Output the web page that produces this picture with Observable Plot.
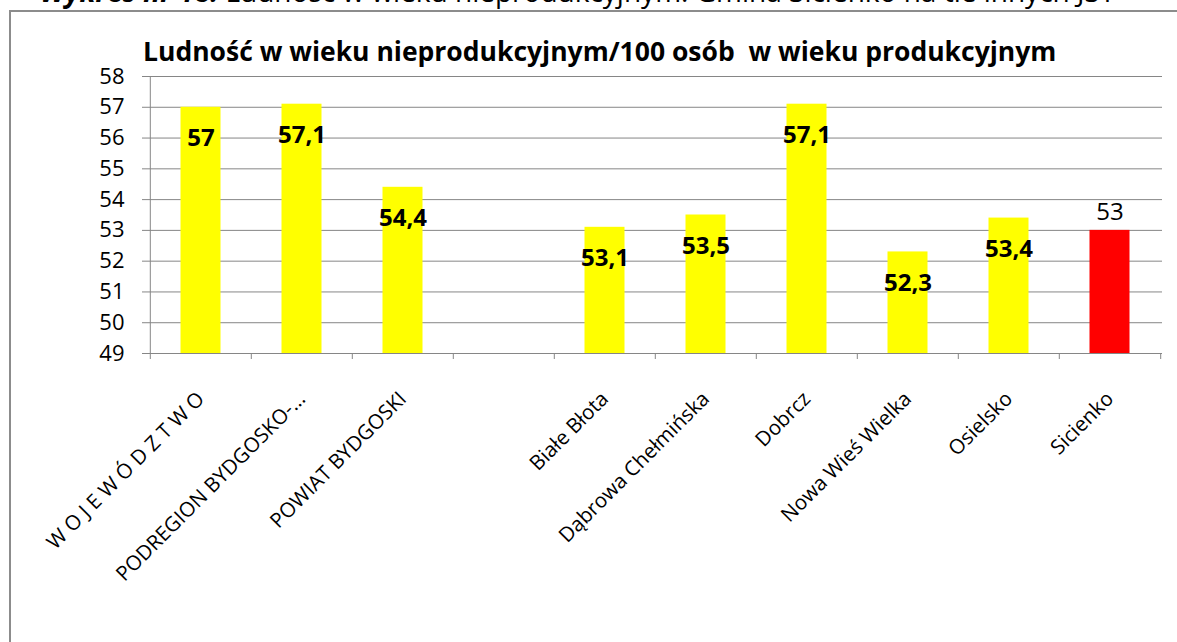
<!DOCTYPE html>
<html><head><meta charset="utf-8">
<script src="https://cdn.jsdelivr.net/npm/d3@7"></script>
<script src="https://cdn.jsdelivr.net/npm/@observablehq/plot@0.6"></script>
<style>
body{margin:0;background:#fff;width:1177px;height:642px;overflow:hidden;position:relative;font-family:"Open Sans",sans-serif;color:#000}
#top{position:absolute;left:40px;top:-23px;font-size:28px;white-space:nowrap;line-height:28px}
#frame{position:absolute;left:9px;top:10px;width:1300px;height:800px;border-left:2px solid #8c8c8c;border-top:2px solid #8c8c8c}
#title{position:absolute;left:143px;top:34px;font-size:26.5px;font-weight:700;white-space:nowrap;line-height:34px}
#chart{position:absolute;left:0;top:40px}
</style></head><body>
<div id="top"><b><i>Wykres nr 18.</i></b> Ludność w wieku nieprodukcyjnym. Gmina Sicienko na tle innych JST</div>
<div id="frame"></div>
<div id="title">Ludność w wieku nieprodukcyjnym/100 osób&nbsp; w wieku produkcyjnym</div>
<div id="chart"></div>
<script>
const categories = ["W O J E W Ó D Z T W O", "PODREGION BYDGOSKO-...", "POWIAT BYDGOSKI", "", "Białe Błota", "Dąbrowa Chełmińska", "Dobrcz", "Nowa Wieś Wielka", "Osielsko", "Sicienko"];
const values = [57, 57.1, 54.4, null, 53.1, 53.5, 57.1, 52.3, 53.4, 53];
const highlighted = "Sicienko";
const yTicks = [49, 50, 51, 52, 53, 54, 55, 56, 57, 58];

const data = categories.map((name, i) => ({name, value: values[i]}));
const bars = data.filter(d => d.value != null);
const fmt = v => String(v).replace(".", ",");

const W = 1177, H = 602, ML = 148, MR = 15;
const step = (W - ML - MR) / categories.length;
const grid = "#868686";

const chart = Plot.plot({
  width: W, height: H,
  marginLeft: ML, marginRight: MR, marginTop: 36, marginBottom: 289,
  style: {fontFamily: "'Open Sans', sans-serif", background: "transparent", color: "#000"},
  x: {domain: categories, padding: 0, label: null},
  y: {domain: [49, 58], label: null},
  color: {type: "identity"},
  marks: [
    Plot.gridY(yTicks, {stroke: grid, strokeOpacity: 1}),
    Plot.barY(bars, {x: "name", y1: 49, y2: "value", fill: d => d.name === highlighted ? "#ff0000" : "#ffff00", insetLeft: 30.5, insetRight: 30.5}),
    Plot.ruleY([49], {stroke: grid}),
    Plot.ruleX([categories[0]], {x: d => d, dx: -step / 2, y1: 49, y2: 58, stroke: grid}),
    Plot.ruleX(categories, {x: d => d, dx: -step / 2, y1: 49, y2: 49, insetBottom: -6, stroke: grid}),
    Plot.ruleX([categories[categories.length - 1]], {x: d => d, dx: step / 2, y1: 49, y2: 49, insetBottom: -6, stroke: grid}),
    Plot.axisX({tickSize: 0, tickRotate: -45, tickPadding: 42, fontSize: 20.5}),
    Plot.axisY({ticks: yTicks, tickSize: 6, tickPadding: 18, fontSize: 22, stroke: grid}),
    Plot.text(bars.filter(d => d.name !== highlighted), {x: "name", y: "value", text: d => fmt(d.value), dy: 31, fontSize: 24, fontWeight: "bold", fill: "#000"}),
    Plot.text(bars.filter(d => d.name === highlighted), {x: "name", y: "value", text: d => fmt(d.value), dy: -18, fontSize: 24, fill: "#000"})
  ]
});
document.getElementById("chart").appendChild(chart);
</script>
</body></html>
